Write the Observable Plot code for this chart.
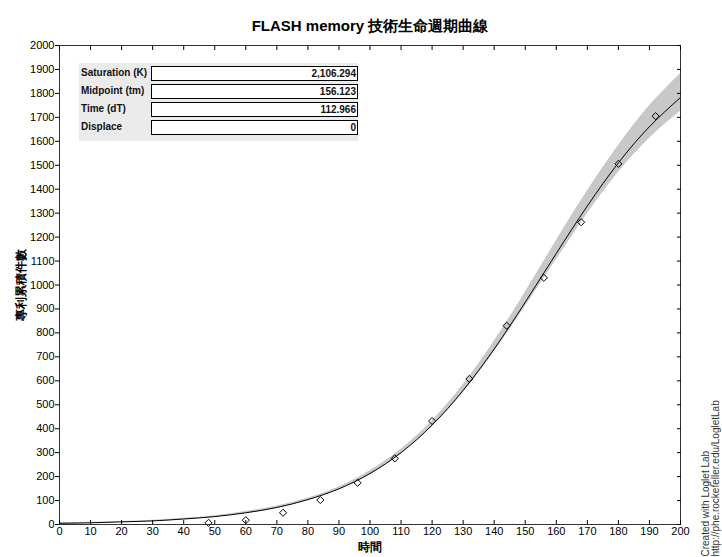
<!DOCTYPE html>
<html>
<head>
<meta charset="utf-8">
<script src="https://cdn.jsdelivr.net/npm/d3@7"></script>
<script src="https://cdn.jsdelivr.net/npm/@observablehq/plot@0.6"></script>
<style>
  body { margin: 0; background: #fff; }
  #wrap { position: relative; width: 722px; height: 557px; overflow: hidden; }
  #tbl { position: absolute; left: 79px; top: 63px; width: 279px; height: 78px; background: #ebebeb;
         font-family: "Liberation Sans", Arial, sans-serif; font-weight: bold; font-size: 10px; color: #111; }
  .lab { position: absolute; left: 2px; height: 14px; line-height: 14px; }
  .val { position: absolute; left: 72px; width: 204px; height: 13px; line-height: 13px; background: #fff;
         border: 1px solid #000; text-align: right; padding-right: 1px; box-sizing: content-box; }
</style>
</head>
<body>
<div id="wrap"></div>
<script>
const title = "FLASH memory 技術生命週期曲線";
const xLabel = "時間";
const yLabel = "專利累積件數";
const credit1 = "Created with Loglet Lab";
const credit2 = "http://phe.rockefeller.edu/LogletLab";

const xTicks = [0,10,20,30,40,50,60,70,80,90,100,110,120,130,140,150,160,170,180,190,200];
const yTicks = [0,100,200,300,400,500,600,700,800,900,1000,1100,1200,1300,1400,1500,1600,1700,1800,1900,2000];

// fitted curve and band
const curveT = [0,10,20,30,40,50,60,70,80,90,100,110,120,130,140,150,160,170,180,190,200];
const curveV = [5,7,11,15,23,33,49,71,104,149,213,300,415,560,733,928,1132,1330,1510,1661,1783];
const bandLo = [3,5,9,13,20,30,45,67,100,145,208,294,408,550,720,910,1105,1298,1470,1612,1725];
const bandHi = [7,9,13,18,26,37,54,77,110,157,224,314,432,583,765,970,1185,1392,1582,1748,1882];

// observed data points
const pointT = [48,60,72,84,96,108,120,132,144,156,168,180,192];
const pointV = [7,18,49,102,174,276,432,608,830,1030,1262,1506,1705];

// parameter table
const tableLabels = ["Saturation (K)", "Midpoint (tm)", "Time (dT)", "Displace"];
const tableValues = ["2,106.294", "156.123", "112.966", "0"];

const FONT = '"Liberation Sans Narrow", "Arial Narrow", "Liberation Sans", Arial, sans-serif';

const curveData = curveT.map((t, i) => ({t, v: curveV[i], lo: bandLo[i], hi: bandHi[i]}));
const pts = pointT.map((t, i) => ({t, v: pointV[i]}));

const chart = Plot.plot({
  width: 722, height: 557,
  marginLeft: 59, marginRight: 42, marginTop: 45, marginBottom: 33,
  style: {fontFamily: FONT, fontSize: "11px", color: "#000", background: "#fff", overflow: "visible"},
  x: {domain: [0, 200]},
  y: {domain: [0, 2000]},
  marks: [
    Plot.areaY(curveData, {x: "t", y1: "lo", y2: "hi", fill: "#c8c8c8", curve: "natural"}),
    Plot.line(curveData, {x: "t", y: "v", stroke: "#000", strokeWidth: 1, curve: "natural"}),
    Plot.dot(pts, {x: "t", y: "v", symbol: "diamond2", r: 3.2, stroke: "#000", fill: "none", strokeWidth: 1}),
    Plot.frame({stroke: "#333"}),
    Plot.axisY({ticks: yTicks, anchor: "left", tickSize: 4, tickPadding: 1, tickFormat: d => String(d), label: null, fontSize: 11}),
    Plot.axisY({ticks: yTicks, anchor: "right", tickSize: -4, tickFormat: () => "", label: null}),
    Plot.axisX({ticks: xTicks, anchor: "bottom", tickSize: 0, tickPadding: 3, tickFormat: d => String(d), label: null, fontSize: 11}),
    Plot.axisX({ticks: xTicks, anchor: "bottom", tickSize: -4, tickFormat: () => "", label: null}),
    Plot.axisX({ticks: xTicks, anchor: "top", tickSize: -4, tickFormat: () => "", label: null}),
    Plot.text([title], {frameAnchor: "top", dy: -25, fontWeight: "bold", fontSize: 15, fill: "#000"}),
    Plot.text([xLabel], {frameAnchor: "bottom", dy: 26, fontWeight: "bold", fontSize: 12, fill: "#000"}),
    Plot.text([yLabel], {frameAnchor: "left", dx: -38, dy: 36, rotate: -90, fontWeight: "bold", fontSize: 12, fill: "#000"}),
    Plot.text([credit1], {frameAnchor: "bottom-right", dx: 28, dy: 32, rotate: -90, textAnchor: "start", fontSize: 10, fill: "#333"}),
    Plot.text([credit2], {frameAnchor: "bottom-right", dx: 38, dy: 32, rotate: -90, textAnchor: "start", fontSize: 10, fill: "#333"})
  ]
});

const wrap = document.getElementById("wrap");
wrap.appendChild(chart);

const tbl = document.createElement("div");
tbl.id = "tbl";
const rowTops = [3, 21, 38.5, 57];
tableLabels.forEach((lab, i) => {
  const l = document.createElement("div");
  l.className = "lab";
  l.style.top = rowTops[i] + "px";
  l.textContent = lab;
  tbl.appendChild(l);
  const v = document.createElement("div");
  v.className = "val";
  v.style.top = rowTops[i] + "px";
  v.textContent = tableValues[i];
  tbl.appendChild(v);
});
wrap.appendChild(tbl);
</script>
</body>
</html>
